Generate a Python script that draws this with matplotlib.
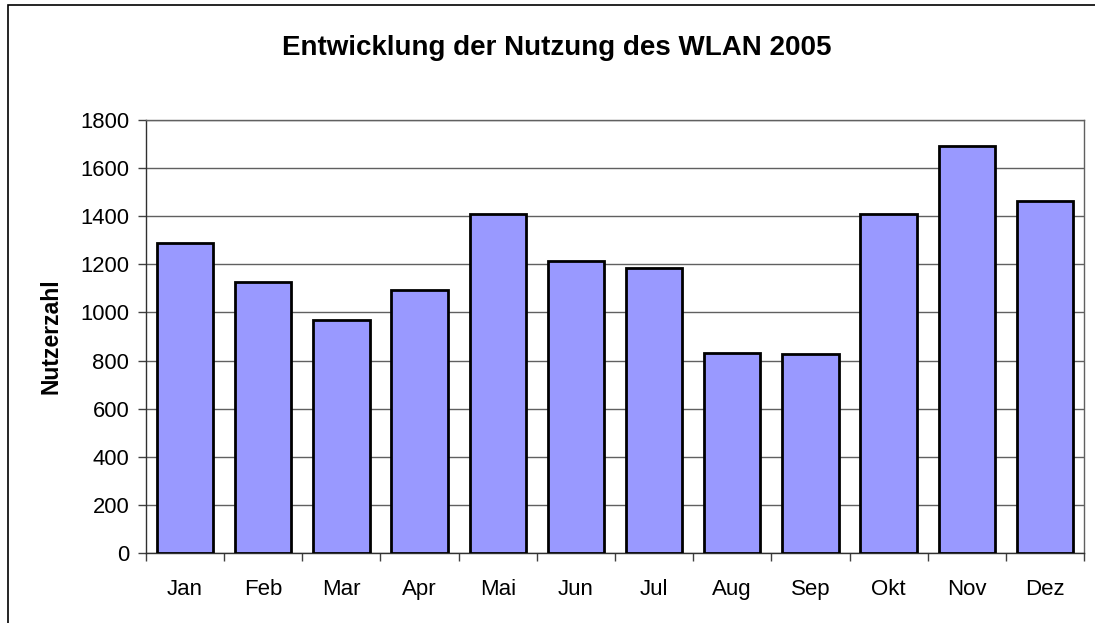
import matplotlib
matplotlib.use('Agg')
import matplotlib.pyplot as plt
from matplotlib.patches import Rectangle
import numpy as np

# data
monate = ['Jan', 'Feb', 'Mar', 'Apr', 'Mai', 'Jun', 'Jul', 'Aug', 'Sep', 'Okt', 'Nov', 'Dez']
nutzer = [1288, 1128, 970, 1095, 1410, 1215, 1186, 832, 829, 1410, 1690, 1462]
y_ticks = [0, 200, 400, 600, 800, 1000, 1200, 1400, 1600, 1800]

plt.rcParams['font.family'] = ['Liberation Sans', 'DejaVu Sans']

fig = plt.figure(figsize=(10.95, 6.23), dpi=100)
ax = fig.add_axes([146/1095, 1 - 553/623, (1084 - 146)/1095, (553 - 120)/623])

# outer chart border (only left/top visible in the reference)
fig.patches.append(Rectangle((8/1095, -0.1), 1.2, 1 - 5/623 + 0.1, transform=fig.transFigure,
                             fill=False, edgecolor='black', linewidth=1.2))

x = np.arange(len(monate))
ax.bar(x, nutzer, width=0.72, color='#9999FF', edgecolor='black', linewidth=2.0, zorder=3)

ax.set_xlim(-0.5, len(monate) - 0.5)
ax.set_ylim(0, 1800)
ax.set_yticks(y_ticks)
ax.yaxis.grid(True, color='#606060', linewidth=1.0, zorder=0)

# x ticks sit at category borders, labels in the middle
ax.set_xticks(np.arange(-0.5, len(monate), 1.0))
ax.set_xticklabels([])
ax.set_xticks(x, minor=True)
ax.set_xticklabels(monate, minor=True)
ax.tick_params(axis='x', which='minor', length=0, pad=19, labelsize=16)
ax.tick_params(axis='x', which='major', length=6, width=1.0, color='#404040')
ax.tick_params(axis='y', length=6, width=1.0, color='#404040', labelsize=15.8, pad=6)

for s in ['left', 'bottom']:
    ax.spines[s].set_color('#303030')
    ax.spines[s].set_linewidth(1.0)
for s in ['top', 'right']:
    ax.spines[s].set_color('#606060')
    ax.spines[s].set_linewidth(1.0)

ax.set_ylabel('Nutzerzahl', fontsize=16.5, fontweight='bold', labelpad=13)
fig.text(557/1095, 1 - 48/623, 'Entwicklung der Nutzung des WLAN 2005', ha='center', va='center',
         fontsize=20, fontweight='bold')

fig.savefig('out.png', dpi=100)
